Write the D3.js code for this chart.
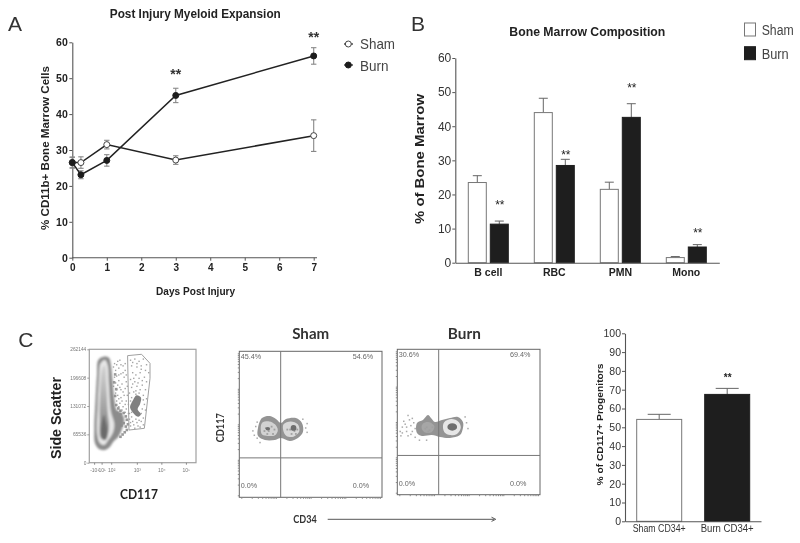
<!DOCTYPE html>
<html><head><meta charset="utf-8">
<script src="https://cdn.jsdelivr.net/npm/d3@7/dist/d3.min.js"></script>
<style>html,body{margin:0;padding:0;background:#fff}svg{display:block;filter:blur(0.3px)}text{font-family:"Liberation Sans",Arial,sans-serif}</style>
</head><body><svg id="c" width="800" height="543"></svg>
<script>
// Panel A
const days=[0,0.25,1,3,7];
const shamMean=[26.5,26.5,31.5,27.2,34];
const shamErr=[1.5,1.6,1.2,1.2,4.4];
const burnMean=[26.5,23.1,27.1,45.2,56.2];
const burnErr=[1.5,1.1,1.6,2,2.3];
const dayTicks=[0,1,2,3,4,5,6,7];
const pctTicksA=[0,10,20,30,40,50,60];
const sigDaysA=[3,7];
// Panel B
const cellTypes=["B cell","RBC","PMN","Mono"];
const shamComp=[23.5,44,21.5,1.5];
const shamCompErr=[2,4.2,2.1,0.3];
const burnComp=[11.3,28.5,42.6,4.6];
const burnCompErr=[0.9,1.8,4,0.7];
const sigLevelB=[17.7,32.5,52.1,9.7];
// Panel C bars
const progGroups=["Sham CD34+","Burn CD34+"];
const progMean=[54.2,67.5];
const progErr=[2.7,3.2];
const progTicks=[0,10,20,30,40,50,60,70,80,90,100];
// Panel C flow, all in percent of the plot frame
const sscTicks=[0,65536,131072,196608,262144];
const cd117TickLabels=["-10¹","10¹","10²","10³","10⁴","10⁵"];
const cd117TickPos=[5,12,21,45,68,91];
const gate=[[35.9,94.4],[49,95.6],[56.9,87.6],[56.9,74.4],[51.6,30.3],[37.2,28.8]];
const mainOuter=[[8.4,90.6],[13.1,93.5],[18.4,92.6],[20.3,86.2],[21.6,74.4],[23.4,56.8],[25.6,46.5],[30.3,43.5],[32.8,37.6],[30.9,30.3],[27.2,22.9],[22.5,18.5],[19.4,14.1],[14.7,11.2],[9.1,12.1],[5.3,17.1],[4.7,30.3],[5.9,56.8],[7.2,77.4]];
const mainRing=[[10.6,87.6],[14.7,90.6],[17.2,86.2],[18.4,68.5],[20.3,45],[23.4,34.7],[22.5,27.4],[17.8,20],[14.1,15.6],[10,17.1],[7.5,24.4],[7.8,50.9],[9.1,74.4]];
const mainMid=[[12.2,83.2],[14.7,85.6],[16,68.5],[17.2,45],[18.4,30.3],[15.3,20],[10.9,21.5],[9.7,39.1],[10.3,65.6]];
const mainCore=[[13.8,42],[15.3,36],[16.8,27.4],[14.7,20.5],[11.5,23.5],[11.5,33]];
const gateBlob=[[41.2,55.6],[44.3,59.4],[48.4,57.4],[47.5,51.5],[45.3,47.2],[48.4,42.8],[45.9,40.6],[42.2,42.8],[38.2,48.7],[39.7,53.1]];
const sparseDots=[[23,88],[26,90],[29,87],[24,82],[27,84],[31,86],[33,82],[25,77],[29,79],[32,76],[24,71],[27,73],[30,70],[34,72],[25,65],[28,67],[31,63],[33,66],[26,60],[29,58],[32,60],[34,55],[28,53],[31,50],[34,48],[36,44],[38,91],[42,92],[46,90],[50,92],[53,87],[39,86],[44,85],[48,86],[52,82],[55,80],[40,80],[43,78],[47,80],[51,76],[38,74],[42,72],[46,75],[53,72],[39,67],[44,68],[49,69],[52,65],[37,62],[41,63],[46,62],[50,60],[53,57],[39,58],[51,52],[52,47],[36,52],[37,44],[50,40],[48,37],[44,36],[40,37],[38,33],[42,31],[47,32],[35,38],[33,45],[50,34],[37,39],[41,34],
 [22,85],[25,87],[28,91],[31,80],[23,76],[27,78],[22,68],[26,69],[29,65],[24,62],[27,57],[30,55],[25,55],[33,52],[27,50],[30,47],[35,60],[35,68],[34,78],[33,88],[40,89],[44,88],[48,83],[41,75],[45,71],[49,73],[40,70],[43,64],[47,65],[38,55],[50,56],[43,61],[39,45],[49,48],[46,38],[43,39],[39,41],[45,33],[38,36],[48,44]];
const edgeDots=[[24,52],[26,49],[28,47],[25,45],[28,44],[31,45],[33,42],[34,39],[35,35],[33,33],[34,30],[32,28],[30,26],[28,24],[31,36],[29,34],[26,38],[24,31],[23,60],[24,66],[22,72],[23,79]];
const shamOuter=[[15.9,54.3],[21.5,55.7],[25.7,53.6],[29.2,50.9],[32.7,53.6],[39.7,54.3],[43.9,50.9],[44.6,44.7],[41.1,40.6],[35.5,38.6],[29.2,40.6],[25,39.3],[18,39.3],[13.1,42],[13.1,47.5]];
const shamLeftRing=[[16,51],[21,52],[25,50],[27,46],[25,42.5],[20,42],[16,43],[15,47]];
const shamRightRing=[[31,50],[36,52],[41,50],[42,45],[38,41.5],[33,42],[31,45]];
const shamMottle=[[18,48],[20,46],[22,49],[23,44],[19,44],[35,47],[37,49],[38,46],[40,47],[36,44],[33,47],[39,44],[24,47],[17,46]];
const shamCores=[[20,47,1.6,1.2],[38,47.5,2,2]];
const burnOuter=[[13.8,49.3],[18,51.4],[21.5,54.8],[23.6,52.8],[26.4,50],[31.3,51.4],[36.9,52.8],[42.5,53.5],[46,50],[46,45.9],[43.9,41],[36.9,39],[29.9,39.7],[24.2,41],[17.2,40.4],[13.8,42.5]];
const burnRightRing=[[33,50],[38,52],[43,50],[44.5,46],[42,42],[37,41],[33,43],[32,47]];
const burnLeftPale=[[18,49],[22,50],[26,47],[24,43],[19,43],[17,46]];
const burnMottle=[[20,47],[22,45],[24,47],[21,44],[19,46]];
const burnCores=[[38.5,46.6,3.4,2.6]];
const shamDots=[[9,46],[11,49],[10,43],[46,48],[47,45],[12,41],[14,38],[44,54],[47,51],[12,52]];
const burnDots=[[1.5,44],[3,47],[5,49],[6,44],[7,41],[9,48],[10,44],[11,50],[4,51],[8,52],[2,41],[6,47],[12,40],[48,50],[49,46],[9,42],[3,43],[12,46],[10,53],[7,55],[47,54],[15,38],[20,38]];
const shamPct=["45.4%","54.6%","0.0%","0.0%"];
const burnPct=["30.6%","69.4%","0.0%","0.0%"];
const quadGate=[29,27];

const svg=d3.select("#c");
const AX="#555";
function txt(g,x,y,s,o={}){
  const t=g.append("text").attr("x",x).attr("y",y).text(s)
    .attr("font-size",o.size||10).attr("fill",o.fill||"#222")
    .attr("font-weight",o.bold?"bold":"normal").attr("text-anchor",o.anchor||"middle");
  if(o.family)t.style("font-family",o.family);
  if(o.len)t.attr("textLength",o.len).attr("lengthAdjust","spacingAndGlyphs");
  if(o.rot)t.attr("transform",`rotate(${o.rot} ${x} ${y})`);
  return t;
}
function styleAxis(g,o){
  g.selectAll("path.domain").attr("stroke",AX).attr("stroke-width",1.1);
  g.selectAll(".tick line").attr("stroke",AX).attr("stroke-width",1);
  g.selectAll(".tick text").style("font-family",'"Liberation Sans",Arial,sans-serif')
    .attr("font-size",o.size).attr("font-weight",o.bold?"bold":"normal").attr("fill",o.fill||"#222");
}
// ---------- Panel letters
txt(svg,8,30.7,"A",{size:21,anchor:"start",fill:"#333"});
txt(svg,411,30.7,"B",{size:21,anchor:"start",fill:"#333"});
txt(svg,18.3,347.3,"C",{size:21,anchor:"start",fill:"#333"});

// ---------- Panel A
{
 const x=d3.scaleLinear().domain([0,7]).range([72.3,313.7]);
 const y=d3.scaleLinear().domain([0,60]).range([257.7,42.3]);
 const g=svg.append("g");
 const xa=g.append("g").attr("transform",`translate(0,${y(0)})`)
   .call(d3.axisBottom(x).tickValues(dayTicks).tickFormat(d3.format("d")).tickSize(3).tickPadding(3).tickSizeOuter(0));
 xa.select("path.domain").attr("d",`M${x(0)},0H317`);
 styleAxis(xa,{size:10,bold:true});
 const ya=g.append("g").attr("transform",`translate(${x(0)},0)`)
   .call(d3.axisLeft(y).tickValues(pctTicksA).tickSize(3).tickPadding(1.5).tickSizeOuter(0));
 styleAxis(ya,{size:10.5,bold:true});
 const line=d3.line().x(d=>x(d[0])).y(d=>y(d[1]));
 const draw=(m,e,fill,stroke)=>{
   const pts=days.map((d,i)=>[d,m[i],e[i]]);
   const eb=g.append("g").attr("stroke","#888").attr("stroke-width",1.1);
   pts.forEach(p=>{
     eb.append("line").attr("x1",x(p[0])).attr("x2",x(p[0])).attr("y1",y(p[1]-p[2])).attr("y2",y(p[1]+p[2]));
     [-1,1].forEach(s=>eb.append("line").attr("x1",x(p[0])-2.7).attr("x2",x(p[0])+2.7).attr("y1",y(p[1]+s*p[2])).attr("y2",y(p[1]+s*p[2])));
   });
   g.append("path").datum(pts).attr("d",line).attr("fill","none").attr("stroke","#222").attr("stroke-width",1.5);
   g.append("g").selectAll("circle").data(pts).join("circle").attr("cx",d=>x(d[0])).attr("cy",d=>y(d[1]))
     .attr("r",3).attr("fill",fill).attr("stroke",stroke).attr("stroke-width",1);
 };
 draw(shamMean,shamErr,"#fff","#444");
 draw(burnMean,burnErr,"#1c1c1c","#1c1c1c");
 sigDaysA.forEach((d,i)=>txt(g,x(d),i===0?78.7:41.8,"**",{size:14,bold:true,fill:"#333"}));
 txt(g,195.3,18,"Post Injury Myeloid Expansion",{size:12,bold:true,len:171});
 txt(g,48.7,148,"% CD11b+ Bone Marrow Cells",{size:10.5,bold:true,rot:-90,len:164});
 txt(g,195.6,294.7,"Days Post Injury",{size:10.5,bold:true,len:79});
 [["Sham",44,"#fff",49.3,35],["Burn",65,"#1c1c1c",70.7,28.5]].forEach(l=>{
   g.append("line").attr("x1",344).attr("x2",353).attr("y1",l[1]).attr("y2",l[1]).attr("stroke","#333").attr("stroke-width",1.3);
   g.append("circle").attr("cx",348.3).attr("cy",l[1]).attr("r",3).attr("fill",l[2]).attr("stroke",l[2]==="#fff"?"#444":"#1c1c1c");
   txt(g,360,l[3],l[0],{size:15,anchor:"start",fill:"#444",len:l[4]});
 });
}

// ---------- Panel B
{
 const x0=d3.scaleBand().domain(cellTypes).range([455.3,719.3]);
 const y=d3.scaleLinear().domain([0,60]).range([262.7,58]);
 const g=svg.append("g");
 const series=[[shamComp,shamCompErr,"#fff",-20],[burnComp,burnCompErr,"#1e1e1e",2]];
 const bw=18;
 series.forEach(s=>{
   cellTypes.forEach((c,i)=>{
     const cx=x0(c)+x0.bandwidth()/2;
     const bx=cx+s[3];
     const ex=bx+bw/2;
     g.append("line").attr("x1",ex).attr("x2",ex).attr("y1",y(s[0][i])).attr("y2",y(s[0][i]+s[1][i])).attr("stroke","#666");
     g.append("line").attr("x1",ex-4.5).attr("x2",ex+4.5).attr("y1",y(s[0][i]+s[1][i])).attr("y2",y(s[0][i]+s[1][i])).attr("stroke","#666");
     g.append("rect").attr("x",bx).attr("y",y(s[0][i])).attr("width",bw).attr("height",y(0)-y(s[0][i]))
       .attr("fill",s[2]).attr("stroke",s[2]==="#fff"?"#777":"#1e1e1e").attr("stroke-width",1);
   });
 });
 const xa=g.append("g").attr("transform",`translate(0,${y(0)})`).call(d3.axisBottom(x0).tickSize(0).tickPadding(6).tickSizeOuter(0));
 styleAxis(xa,{size:10.5,bold:true});
 const ya=g.append("g").attr("transform",`translate(455.3,0)`).call(d3.axisLeft(y).tickValues(pctTicksA).tickSize(3).tickPadding(1).tickSizeOuter(0));
 styleAxis(ya,{size:12,fill:"#333"});
 cellTypes.forEach((c,i)=>txt(g,x0(c)+x0.bandwidth()/2+11.5,y(sigLevelB[i])+7,"**",{size:12,fill:"#222"}));
 txt(g,587.3,36,"Bone Marrow Composition",{size:12,bold:true,len:156});
 txt(g,424.3,159,"% of Bone Marrow",{size:13,bold:true,rot:-90,len:130});
 [["Sham",23,"#fff",35,32],["Burn",46.7,"#1e1e1e",58.7,27]].forEach(l=>{
   g.append("rect").attr("x",744.5).attr("y",l[1]).attr("width",11).attr("height",13).attr("fill",l[2]).attr("stroke",l[2]==="#fff"?"#777":"#1e1e1e");
   txt(g,761.7,l[3],l[0],{size:14,anchor:"start",fill:"#444",len:l[4]});
 });
}

// ---------- Panel C bars
{
 const x=d3.scaleBand().domain(progGroups).range([625,761]).paddingInner(0.35).paddingOuter(0.09);
 const y=d3.scaleLinear().domain([0,100]).range([521.3,333.3]);
 const g=svg.append("g");
 const cols=["#fff","#1e1e1e"];
 progGroups.forEach((c,i)=>{
   const cx=[659.2,727.2][i], w=45;
   g.append("line").attr("x1",cx).attr("x2",cx).attr("y1",y(progMean[i])).attr("y2",y(progMean[i]+progErr[i])).attr("stroke","#666");
   g.append("line").attr("x1",cx-11.5).attr("x2",cx+11.5).attr("y1",y(progMean[i]+progErr[i])).attr("y2",y(progMean[i]+progErr[i])).attr("stroke","#666");
   g.append("rect").attr("x",cx-w/2).attr("y",y(progMean[i])).attr("width",w).attr("height",y(0)-y(progMean[i]))
     .attr("fill",cols[i]).attr("stroke",i?"#1e1e1e":"#777");
   txt(g,cx,532.3,c,{size:10,fill:"#333",len:53});
 });
 const xa=g.append("g").attr("transform",`translate(0,${y(0)})`).call(d3.axisBottom(x).tickValues([]).tickSizeOuter(0));
 styleAxis(xa,{size:10});
 const ya=g.append("g").attr("transform",`translate(625,0)`).call(d3.axisLeft(y).tickValues(progTicks).tickSize(3).tickPadding(1).tickSizeOuter(0));
 styleAxis(ya,{size:10.5,fill:"#333"});
 txt(g,727.7,381,"**",{size:10,bold:true});
 txt(g,603.3,424.5,"% of CD117+ Progenitors",{size:9.5,bold:true,rot:-90,len:122});
}

// ---------- Flow plots
const defs=svg.append("defs");
defs.append("filter").attr("id","soft").append("feGaussianBlur").attr("stdDeviation",0.6);
defs.append("filter").attr("id","soft2").append("feGaussianBlur").attr("stdDeviation",1.1);
const grad=defs.append("linearGradient").attr("id","midGrad").attr("x1",0).attr("x2",0).attr("y1",0).attr("y2",1);
grad.append("stop").attr("offset",0).attr("stop-color","#d4d4d4");
grad.append("stop").attr("offset",1).attr("stop-color","#7e7e7e");
function frame(l,t,w,h){
 const g=svg.append("g");
 const x=d3.scaleLinear().domain([0,100]).range([l,l+w]);
 const y=d3.scaleLinear().domain([0,100]).range([t+h,t]);
 const closed=d3.line().x(d=>x(d[0])).y(d=>y(d[1])).curve(d3.curveCatmullRomClosed.alpha(0.5));
 return {g,x,y,closed,l,t,w,h};
}
const dots=(p,sel,arr,size,fill)=>arr.forEach(d=>sel.append("rect").attr("x",p.x(d[0])).attr("y",p.y(d[1])).attr("width",size).attr("height",size).attr("fill",fill));
const blobEll=(p,sel,arr,fill)=>arr.forEach(e=>sel.append("ellipse").attr("cx",p.x(e[0])).attr("cy",p.y(e[1]))
   .attr("rx",p.x(e[2])-p.x(0)).attr("ry",p.y(0)-p.y(e[3])).attr("fill",fill));
// SSC vs CD117
{
 const p=frame(89.3,349.3,106.7,113.4);
 const d0=p.g.append("g").attr("filter","url(#soft)");
 dots(p,d0,sparseDots,1.4,"#a4a4a4");
 dots(p,d0,edgeDots,2.6,"#9a9a9a");
 const s=p.g.append("g").attr("filter","url(#soft2)");
 [[mainOuter,"#8c8c8c"],[mainRing,"#e6e6e6"],[mainMid,"url(#midGrad)"],[mainCore,"#6a6a6a"]].forEach(a=>
   s.append("path").attr("d",p.closed(a[0])).attr("fill",a[1]));
 d0.append("path").attr("d",p.closed(gateBlob)).attr("fill","#808080");
 p.g.append("path").attr("d",d3.line().x(d=>p.x(d[0])).y(d=>p.y(d[1])).curve(d3.curveLinearClosed)(gate)).attr("fill","none").attr("stroke","#a0a0a0").attr("stroke-width",1);
 p.g.append("rect").attr("x",p.l).attr("y",p.t).attr("width",p.w).attr("height",p.h).attr("fill","none").attr("stroke","#a0a0a0").attr("stroke-width",1.2);
 const yS=d3.scaleLinear().domain([0,262144]).range([p.t+p.h,p.t]);
 const ya=p.g.append("g").attr("transform",`translate(${p.l},0)`).call(d3.axisLeft(yS).tickValues(sscTicks).tickFormat(d3.format("d")).tickSize(2).tickPadding(1).tickSizeOuter(0));
 ya.select("path.domain").remove();
 ya.selectAll(".tick line").attr("stroke","#999");
 ya.selectAll(".tick text").style("font-family",'"Liberation Sans",Arial,sans-serif').attr("font-size",4.8).attr("fill","#777");
 cd117TickPos.forEach((v,i)=>{
   p.g.append("line").attr("x1",p.x(v)).attr("x2",p.x(v)).attr("y1",p.t+p.h).attr("y2",p.t+p.h+2).attr("stroke","#888");
   txt(p.g,p.x(v),p.t+p.h+9,cd117TickLabels[i],{size:5,fill:"#777"});
 });
 txt(svg,60.7,418,"Side Scatter",{size:14,bold:true,rot:-90,len:82,fill:"#222"});
 txt(svg,139,499.3,"CD117",{size:13,bold:true,family:'Lato,sans-serif',len:38,fill:"#222"});
}
function quad(l,t,w,h,outer,pale,mottle,cores,spots,labels,xpos,topBase,botBase){
 const p=frame(l,t,w,h);
 const s=p.g.append("g").attr("filter","url(#soft)");
 dots(p,s,spots,1.5,"#aaa");
 s.append("path").attr("d",p.closed(outer)).attr("fill","#949494");
 pale.forEach(r=>s.append("path").attr("d",p.closed(r[0])).attr("fill",r[1]));
 dots(p,s,mottle,1.8,"#a0a0a0");
 blobEll(p,s,cores,"#6e6e6e");
 p.g.append("rect").attr("x",l).attr("y",t).attr("width",w).attr("height",h).attr("fill","none").attr("stroke","#666").attr("stroke-width",1);
 p.g.append("line").attr("x1",p.x(quadGate[0])).attr("x2",p.x(quadGate[0])).attr("y1",t).attr("y2",t+h).attr("stroke","#777");
 p.g.append("line").attr("x1",l).attr("x2",l+w).attr("y1",p.y(quadGate[1])).attr("y2",p.y(quadGate[1])).attr("stroke","#777");
 const lx=d3.scaleLog().domain([1,10000]).range([l+2,l+w-2]);
 const ly=d3.scaleLog().domain([1,10000]).range([t+h-2,t+2]);
 const ba=p.g.append("g").attr("transform",`translate(0,${t+h})`).call(d3.axisBottom(lx).tickSize(1.5).tickFormat(""));
 ba.select("path.domain").remove(); ba.selectAll("line").attr("stroke","#888");
 const la=p.g.append("g").attr("transform",`translate(${l},0)`).call(d3.axisLeft(ly).tickSize(1.5).tickFormat(""));
 la.select("path.domain").remove(); la.selectAll("line").attr("stroke","#888");
 [[0,topBase],[1,topBase],[2,botBase],[3,botBase]].forEach(a=>txt(p.g,xpos[a[0]%2],a[1],labels[a[0]],{size:7.2,anchor:"start",fill:"#666"}));
}
quad(239.3,351.3,142.7,146,shamOuter,[[shamLeftRing,"#d2d2d2"],[shamRightRing,"#d8d8d8"]],shamMottle,shamCores,shamDots,shamPct,[240.7,352.7],359.3,488);
quad(397.3,349.3,142.7,145.4,burnOuter,[[burnLeftPale,"#a6a6a6"],[burnRightRing,"#e6e6e6"]],burnMottle,burnCores,burnDots,burnPct,[398.7,510],357.3,485.7);
txt(svg,310.7,339.3,"Sham",{size:15,bold:true,family:'Lato,sans-serif',fill:"#333",len:37});
txt(svg,464.3,339.3,"Burn",{size:15,bold:true,family:'Lato,sans-serif',fill:"#333",len:33});
txt(svg,224,427.7,"CD117",{size:10.5,bold:true,family:'Lato,sans-serif',rot:-90,len:29,fill:"#333"});
txt(svg,305,522.7,"CD34",{size:10.5,bold:true,family:'Lato,sans-serif',len:23.5,fill:"#333"});
svg.append("line").attr("x1",327.7).attr("x2",494).attr("y1",519.3).attr("y2",519.3).attr("stroke","#444").attr("stroke-width",0.9);
svg.append("path").attr("d",d3.line()([[491.5,517.2],[495.7,519.3],[491.5,521.4]])).attr("fill","none").attr("stroke","#444").attr("stroke-width",0.9);
</script></body></html>
